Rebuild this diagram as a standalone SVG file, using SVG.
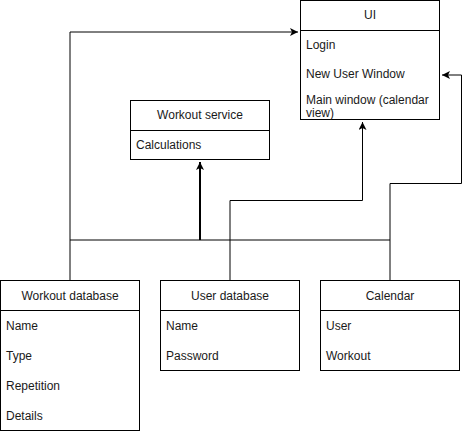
<svg xmlns="http://www.w3.org/2000/svg" width="469" height="432" viewBox="0 0 469 432">
<style>
.box{fill:#fff;stroke:#000;stroke-width:1}
.t{font-family:"Liberation Sans",Arial,sans-serif;font-size:12px;fill:#1a1a1a}
.c{text-anchor:middle}
.w{fill:none;stroke:#000;stroke-width:1}
.thick{fill:none;stroke:#000;stroke-width:2}
</style>
<defs>
<marker id="a" markerUnits="userSpaceOnUse" markerWidth="10" markerHeight="10" refX="8" refY="4" orient="auto">
<path d="M0,0 L8,4 L0,8 L2,4 z" fill="#000"/>
</marker>
</defs>
<rect width="469" height="432" fill="#fff"/>
<g id="connectors">
<path class="w" d="M70,280 V32 H298" marker-end="url(#a)"/>
<path class="w" d="M70,240 H390"/>
<path class="thick" d="M200,240 V162" marker-end="url(#a)"/>
<path class="w" d="M230,280 V200.5 H362.5 V122" marker-end="url(#a)"/>
<path class="w" d="M390,280 V183.5 H461.5 V75 H442" marker-end="url(#a)"/>
</g>
<g id="ui">
<rect class="box" x="300.5" y="0.5" width="139" height="119"/>
<line class="w" x1="300.5" y1="30.5" x2="439.5" y2="30.5"/>
<text class="t c" x="370" y="19">UI</text>
<text class="t" x="306" y="49">Login</text>
<text class="t" x="306" y="78">New User Window</text>
<text class="t" x="306" y="104">Main window (calendar</text>
<text class="t" x="306" y="117">view)</text>
</g>
<g id="workout-service">
<rect class="box" x="130.5" y="100.5" width="139" height="59"/>
<line class="w" x1="130.5" y1="130.5" x2="269.5" y2="130.5"/>
<text class="t c" x="200" y="119">Workout service</text>
<text class="t" x="136" y="149">Calculations</text>
</g>
<g id="workout-database">
<rect class="box" x="0.5" y="280.5" width="139" height="150"/>
<line class="w" x1="0.5" y1="310.5" x2="139.5" y2="310.5"/>
<text class="t c" x="70" y="300">Workout database</text>
<text class="t" x="6" y="330">Name</text>
<text class="t" x="6" y="360">Type</text>
<text class="t" x="6" y="390">Repetition</text>
<text class="t" x="6" y="420">Details</text>
</g>
<g id="user-database">
<rect class="box" x="160.5" y="280.5" width="139" height="90"/>
<line class="w" x1="160.5" y1="310.5" x2="299.5" y2="310.5"/>
<text class="t c" x="230" y="300">User database</text>
<text class="t" x="166" y="330">Name</text>
<text class="t" x="166" y="360">Password</text>
</g>
<g id="calendar">
<rect class="box" x="320.5" y="280.5" width="139" height="90"/>
<line class="w" x1="320.5" y1="310.5" x2="459.5" y2="310.5"/>
<text class="t c" x="390" y="300">Calendar</text>
<text class="t" x="326" y="330">User</text>
<text class="t" x="326" y="360">Workout</text>
</g>
</svg>
